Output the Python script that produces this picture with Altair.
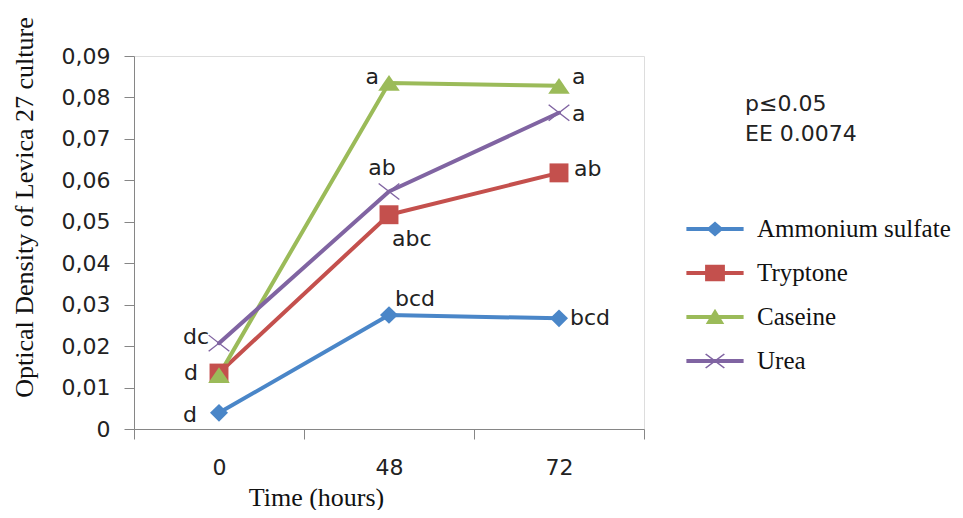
import altair as alt
import pandas as pd

# ---------------- data ----------------
series = ["Ammonium sulfate", "Tryptone", "Caseine", "Urea"]
times = ["0", "48", "72"]
ammonium = [0.0039, 0.0275, 0.0267]
tryptone = [0.0135, 0.0517, 0.0618]
caseine = [0.0130, 0.0835, 0.0828]
urea = [0.0207, 0.0573, 0.0763]
letters_ammonium = ["d", "bcd", "bcd"]
letters_tryptone = ["d", "abc", "ab"]
letters_caseine = ["", "a", "a"]
letters_urea = ["dc", "ab", "a"]
y_ticks = [0, 0.01, 0.02, 0.03, 0.04, 0.05, 0.06, 0.07, 0.08, 0.09]
stats_lines = ["p\u22640.05", "EE 0.0074"]
y_title = "Optical Density of Levica 27 culture"
x_title = "Time (hours)"

values = [ammonium, tryptone, caseine, urea]
letters = [letters_ammonium, letters_tryptone, letters_caseine, letters_urea]
rows = []
for s, vals, lets in zip(series, values, letters):
    for t, v, l in zip(times, vals, lets):
        rows.append({"Series": s, "Time": t, "OD": v, "Letter": l})
df = pd.DataFrame(rows)

# ---------------- styles ----------------
colors = ["#4A86C8", "#C4504D", "#9BBB59", "#8064A2"]
SANS = "DejaVu Sans"
SERIF = "Liberation Serif"
AXIS_GREY = "#868686"
TEXT = "#222222"


def cross_path(a, b, t):
    s1 = f"M{-a},{-b + t}L{-a + t},{-b}L{a},{b - t}L{a - t},{b}Z"
    s2 = f"M{-a + t},{b}L{-a},{b - t}L{a - t},{-b}L{a},{-b + t}Z"
    return s1 + s2


marker_paths = [
    "M0,-0.8L0.82,0L0,0.8L-0.82,0Z",
    "M-0.86,-0.86L0.86,-0.86L0.86,0.86L-0.86,0.86Z",
    "M0,-0.72L0.98,0.72L-0.98,0.72Z",
    cross_path(0.98, 0.77, 0.08),
]
leg_line = "M-1.3,-0.09L1.3,-0.09L1.3,0.09L-1.3,0.09Z"
legend_paths = [
    leg_line + "M0,-0.34L0.39,0L0,0.34L-0.39,0Z",
    leg_line + "M-0.45,-0.38L0.45,-0.38L0.45,0.38L-0.45,0.38Z",
    leg_line + "M0,-0.38L0.42,0.32L-0.42,0.32Z",
    leg_line + cross_path(0.45, 0.34, 0.05),
]

x_enc = alt.X(
    "Time:N",
    sort=times,
    bandPosition=0.5,
    scale=alt.Scale(type="band", domain=times, paddingInner=0, paddingOuter=0),
    axis=alt.Axis(
        title=x_title, labelAngle=0, tickBand="extent", tickSize=10,
        domainColor=AXIS_GREY, tickColor=AXIS_GREY, grid=False,
        labelFont=SANS, labelFontSize=22, labelColor=TEXT, labelPadding=18,
        titleFont=SERIF, titleFontSize=26, titleFontWeight="normal", titleColor="#111111",
        titleX=182, titleY=68, titleBaseline="middle", titleAlign="center",
    ),
)
y_enc = alt.Y(
    "OD:Q",
    scale=alt.Scale(domain=[0, 0.09], nice=False, zero=True),
    axis=alt.Axis(
        title=y_title, values=y_ticks,
        labelExpr="datum.value == 0 ? '0' : replace(format(datum.value, '.2f'), '.', ',')",
        tickSize=10, domainColor=AXIS_GREY, tickColor=AXIS_GREY, grid=False,
        labelFont=SANS, labelFontSize=22, labelColor=TEXT, labelPadding=14,
        titleFont=SERIF, titleFontSize=26, titleFontWeight="normal", titleColor="#111111",
        titleX=-110, titleY=151, titleBaseline="middle", titleAlign="center", titleAngle=-90,
    ),
)
color_scale = alt.Scale(domain=series, range=colors)

base = alt.Chart(df)

lines = base.mark_line(strokeWidth=4, strokeJoin="round", strokeCap="round").encode(
    x=x_enc, y=y_enc,
    color=alt.Color("Series:N", scale=color_scale, legend=None),
    order=alt.Order("Time:N"),
)

points = base.mark_point(filled=True, opacity=1, size=484, strokeWidth=0).encode(
    x=x_enc, y=y_enc,
    color=alt.Color("Series:N", scale=color_scale, legend=None),
    shape=alt.Shape("Series:N", scale=alt.Scale(domain=series, range=marker_paths), legend=None),
)

leg_kwargs = dict(
    orient="none", legendX=559, legendY=151, title=None, symbolSize=1936,
    labelOffset=20, rowPadding=9, padding=0, labelFont=SERIF, labelFontSize=25,
    labelColor="#111111", symbolOpacity=1, symbolStrokeWidth=0, labelLimit=400,
)
legend_layer = base.mark_point(filled=True, opacity=0, size=10).encode(
    x=x_enc, y=y_enc,
    color=alt.Color("Series:N", scale=color_scale, legend=alt.Legend(**leg_kwargs)),
    shape=alt.Shape("Series:N", scale=alt.Scale(domain=series, range=legend_paths),
                    legend=alt.Legend(**leg_kwargs)),
)

# label placement (style): (align, dx, dy)
label_style = {
    ("Ammonium sulfate", "0"): ("right", -22, 2),
    ("Ammonium sulfate", "48"): ("left", 6, -16),
    ("Ammonium sulfate", "72"): ("left", 11, 0),
    ("Tryptone", "0"): ("right", -21, 0),
    ("Tryptone", "48"): ("left", 3, 24),
    ("Tryptone", "72"): ("left", 15, -4),
    ("Caseine", "48"): ("right", -10, -6),
    ("Caseine", "72"): ("left", 13, -9),
    ("Urea", "0"): ("right", -10, -6),
    ("Urea", "48"): ("center", -7, -24),
    ("Urea", "72"): ("left", 13, 1),
}
label_layers = []
for (s, t), (al, dx, dy) in label_style.items():
    label_layers.append(
        base.mark_text(font=SANS, fontSize=22, color=TEXT, align=al, baseline="middle", dx=dx, dy=dy)
        .encode(x=x_enc, y=y_enc, text="Letter:N")
        .transform_filter(f"datum.Series == '{s}' && datum.Time == '{t}'")
    )

chart = (
    alt.layer(lines, points, legend_layer, *label_layers)
    .resolve_scale(color="independent", shape="independent")
    .properties(
        width=510, height=373,
        autosize=alt.AutoSizeParams(type="none"),
        padding={"left": 126, "top": 48, "right": 311, "bottom": 81},
        title=alt.TitleParams(
            text=stats_lines, anchor="start", frame="group", orient="top",
            dx=611, dy=129, baseline="top", font=SANS, fontSize=22, fontWeight="normal",
            color=TEXT, lineHeight=30, offset=0,
        ),
    )
    .configure_view(stroke=None)
    .configure(background="white")
)

chart.save("out.html", embed_options={"renderer": "svg", "actions": False})
